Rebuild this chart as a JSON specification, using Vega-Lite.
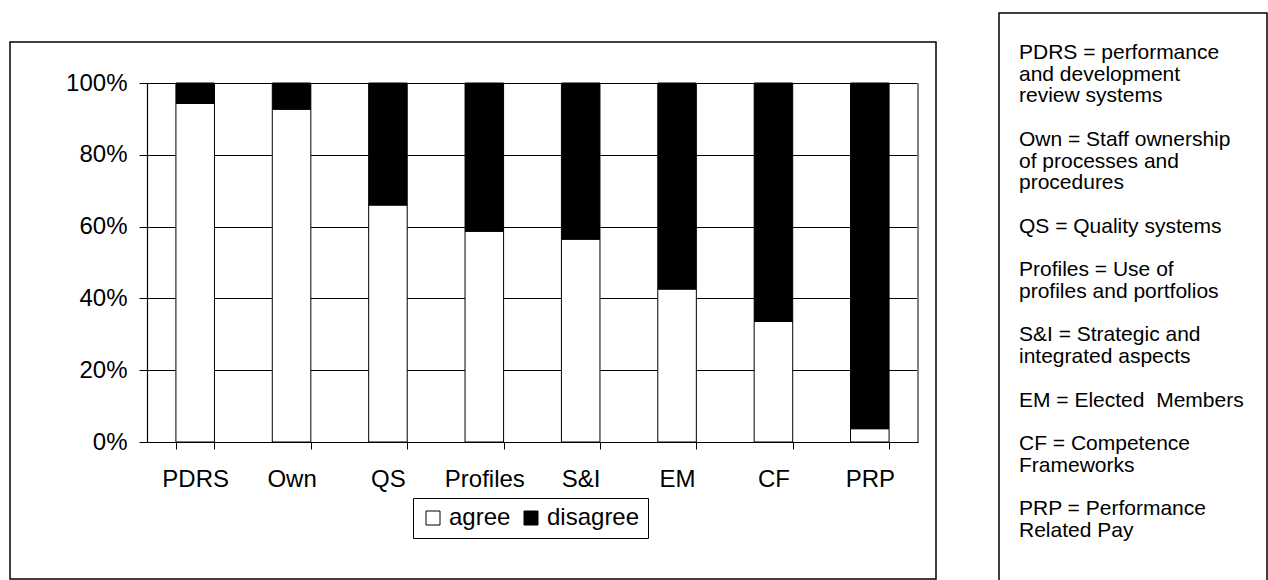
{
  "$schema": "https://vega.github.io/schema/vega-lite/v6.json",
  "padding": {"left": 9, "top": 12, "right": 0, "bottom": 0},
  "background": "#ffffff",
  "spacing": 61,
  "config": {
    "font": "Liberation Sans",
    "axis": {"labelFont": "Liberation Sans", "labelColor": "#000", "domainColor": "#000", "tickColor": "#000"},
    "legend": {"labelFont": "Liberation Sans"}
  },
  "hconcat": [
    {
      "bounds": "flush",
      "spacing": 0,
      "vconcat": [
        {
          "width": 926,
          "height": 29,
          "view": {"stroke": null},
          "data": {"values": [{"t": ""}]},
          "mark": {"type": "text"},
          "encoding": {"text": {"field": "t"}}
        },
        {
          "width": 926,
          "height": 537,
          "view": {"stroke": "#000", "strokeWidth": 1.5},
          "data": {
            "values": [
              {"cat": "PDRS", "response": "agree", "pct": 94.3},
              {"cat": "PDRS", "response": "disagree", "pct": 5.7},
              {"cat": "Own", "response": "agree", "pct": 92.7},
              {"cat": "Own", "response": "disagree", "pct": 7.3},
              {"cat": "QS", "response": "agree", "pct": 66.0},
              {"cat": "QS", "response": "disagree", "pct": 34.0},
              {"cat": "Profiles", "response": "agree", "pct": 58.7},
              {"cat": "Profiles", "response": "disagree", "pct": 41.3},
              {"cat": "S&I", "response": "agree", "pct": 56.5},
              {"cat": "S&I", "response": "disagree", "pct": 43.5},
              {"cat": "EM", "response": "agree", "pct": 42.6},
              {"cat": "EM", "response": "disagree", "pct": 57.4},
              {"cat": "CF", "response": "agree", "pct": 33.6},
              {"cat": "CF", "response": "disagree", "pct": 66.4},
              {"cat": "PRP", "response": "agree", "pct": 3.7},
              {"cat": "PRP", "response": "disagree", "pct": 96.3}
            ]
          },
          "layer": [
            {
              "mark": {"type": "bar", "stroke": "#000", "strokeWidth": 1},
              "encoding": {
                "x": {
                  "field": "cat",
                  "type": "nominal",
                  "sort": ["PDRS", "Own", "QS", "Profiles", "S&I", "EM", "CF", "PRP"],
                  "scale": {"range": [137, 908], "paddingInner": 0.6, "paddingOuter": 0.3},
                  "axis": {
                    "title": null,
                    "labelAngle": 0,
                    "tickBand": "extent",
                    "offset": -137,
                    "tickSize": 7,
                    "labelPadding": 18,
                    "labelFontSize": 24,
                    "grid": false,
                    "domainWidth": 1.2
                  }
                },
                "y": {
                  "field": "pct",
                  "type": "quantitative",
                  "stack": "normalize",
                  "scale": {"domain": [0, 1], "range": [400, 41]},
                  "axis": {
                    "title": null,
                    "format": ".0%",
                    "values": [0, 0.2, 0.4, 0.6, 0.8, 1],
                    "offset": -137,
                    "tickSize": 8,
                    "labelPadding": 12,
                    "labelFontSize": 24,
                    "grid": true,
                    "gridColor": "#000",
                    "gridWidth": 1,
                    "domainWidth": 1.2
                  }
                },
                "color": {
                  "field": "response",
                  "type": "nominal",
                  "scale": {"domain": ["agree", "disagree"], "range": ["#ffffff", "#000000"]},
                  "legend": {
                    "title": null,
                    "orient": "none",
                    "legendX": 403,
                    "legendY": 485,
                    "direction": "horizontal",
                    "strokeColor": "#000",
                    "padding": 8,
                    "symbolType": "square",
                    "symbolSize": 196,
                    "symbolStrokeColor": "#000",
                    "symbolStrokeWidth": 1,
                    "labelFontSize": 24,
                    "labelColor": "#000",
                    "labelOffset": 4,
                    "columnPadding": 8
                  }
                },
                "order": {"field": "response", "sort": "ascending"}
              }
            },
            {
              "mark": {"type": "rule", "color": "#808080", "strokeWidth": 1},
              "encoding": {
                "x": {"datum": "PRP", "type": "nominal", "bandPosition": 1.75},
                "y": {"datum": 0, "type": "quantitative"},
                "y2": {"datum": 1}
              }
            }
          ]
        }
      ]
    },
    {
      "width": 268,
      "height": 570,
      "view": {"stroke": "#000", "strokeWidth": 1.5},
      "data": {
        "values": [
          {"i": 0, "text": "PDRS = performance"},
          {"i": 1, "text": "and development"},
          {"i": 2, "text": "review systems"},
          {"i": 3, "text": ""},
          {"i": 4, "text": "Own = Staff ownership"},
          {"i": 5, "text": "of processes and"},
          {"i": 6, "text": "procedures"},
          {"i": 7, "text": ""},
          {"i": 8, "text": "QS = Quality systems"},
          {"i": 9, "text": ""},
          {"i": 10, "text": "Profiles = Use of"},
          {"i": 11, "text": "profiles and portfolios"},
          {"i": 12, "text": ""},
          {"i": 13, "text": "S&I = Strategic and"},
          {"i": 14, "text": "integrated aspects"},
          {"i": 15, "text": ""},
          {"i": 16, "text": "EM = Elected\u00a0 Members"},
          {"i": 17, "text": ""},
          {"i": 18, "text": "CF = Competence"},
          {"i": 19, "text": "Frameworks"},
          {"i": 20, "text": ""},
          {"i": 21, "text": "PRP = Performance"},
          {"i": 22, "text": "Related Pay"}
        ]
      },
      "mark": {"type": "text", "align": "left", "baseline": "alphabetic", "fontSize": 21, "font": "Liberation Sans", "color": "#000"},
      "encoding": {
        "x": {"datum": 0, "type": "quantitative", "scale": {"domain": [-0.0806, 1]}, "axis": null},
        "y": {"field": "i", "type": "ordinal", "axis": null, "scale": {"type": "point", "padding": 0, "range": [46, 524]}},
        "text": {"field": "text"}
      }
    }
  ]
}
